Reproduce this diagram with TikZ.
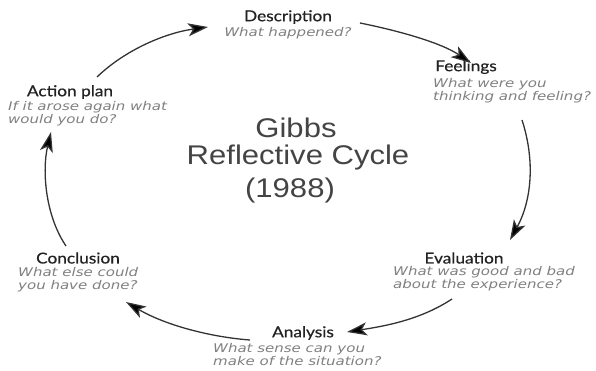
\documentclass[tikz,border=0pt]{standalone}
\usepackage{fontspec}
\usetikzlibrary{arrows.meta}
\newfontfamily\titlefont[FakeStretch=1.15,FakeBold=0.6]{Lato}
\newfontfamily\subfont[FakeStretch=1.25]{DejaVu Sans}
\newfontfamily\bigfont[FakeStretch=1.15]{Liberation Sans}
\definecolor{titlecol}{HTML}{222222}
\definecolor{subcol}{HTML}{808080}
\definecolor{bigcol}{HTML}{444444}
\definecolor{arrcol}{HTML}{333333}
\tikzset{
  stagetitle/.style={inner sep=0pt, font=\titlefont\fontsize{15}{17}\selectfont, text=titlecol},
  stagesub/.style={inner sep=0pt, align=left, font=\subfont\itshape\fontsize{12}{13.5}\selectfont, text=subcol},
  centertext/.style={inner sep=0pt, font=\bigfont\fontsize{27}{31}\selectfont, text=bigcol},
  cyclearrow/.style={draw=arrcol, line width=1.3pt, -{Stealth[length=20pt,width=13pt,inset=5pt,fill=black]}}
}
\begin{document}
\begin{tikzpicture}[x=1pt,y=-1pt]
\useasboundingbox (0,0) rectangle (596,370);
% stage titles
\node[stagetitle] (desc) at (288,17) {Description};
\node[stagesub] (descs) at (288,33) {What happened?};
\node[stagetitle] (feel) at (466,67) {Feelings};
\node[stagesub, anchor=north west] (feels) at (433,78) {What were you\\thinking and feeling?};
\node[stagetitle] (eval) at (464,258) {Evaluation};
\node[stagesub, anchor=north west] (evals) at (393,266) {What was good and bad\\about the experience?};
\node[stagetitle] (anal) at (303,333) {Analysis};
\node[stagesub, anchor=north west] (anals) at (213,343) {What sense can you\\make of the situation?};
\node[stagetitle] (concl) at (78,258) {Conclusion};
\node[stagesub, anchor=north west] (concls) at (18,267) {What else could\\you have done?};
\node[stagetitle] (act) at (70,92) {Action plan};
\node[stagesub, anchor=north west] (acts) at (8,101) {If it arose again what\\would you do?};
% centre
\node[centertext] (g1) at (296,128) {Gibbs};
\node[centertext] (g2) at (298,158) {Reflective Cycle};
\node[centertext] (g3) at (290,191) {(1988)};
% arrow end points
\coordinate (a1s) at (97,77);
\coordinate (a1e) at (208,27);
\coordinate (a2s) at (360,23);
\coordinate (a2e) at (471,63);
\coordinate (a3s) at (522,120);
\coordinate (a3e) at (510,240);
\coordinate (a4s) at (452,299);
\coordinate (a4e) at (347,332);
\coordinate (a5s) at (250,340);
\coordinate (a5e) at (126,302);
\coordinate (a6s) at (66,246);
\coordinate (a6e) at (51,132);
\draw[cyclearrow] (a1s) .. controls (125,50) and (165,33) .. (a1e);
\draw[cyclearrow] (a2s) .. controls (395,30) and (440,42) .. (a2e);
\draw[cyclearrow] (a3s) .. controls (535,160) and (532,200) .. (a3e);
\draw[cyclearrow] (a4s) .. controls (420,320) and (385,326) .. (a4e);
\draw[cyclearrow] (a5s) .. controls (210,337) and (165,325) .. (a5e);
\draw[cyclearrow] (a6s) .. controls (45,215) and (42,170) .. (a6e);
\end{tikzpicture}
\end{document}
